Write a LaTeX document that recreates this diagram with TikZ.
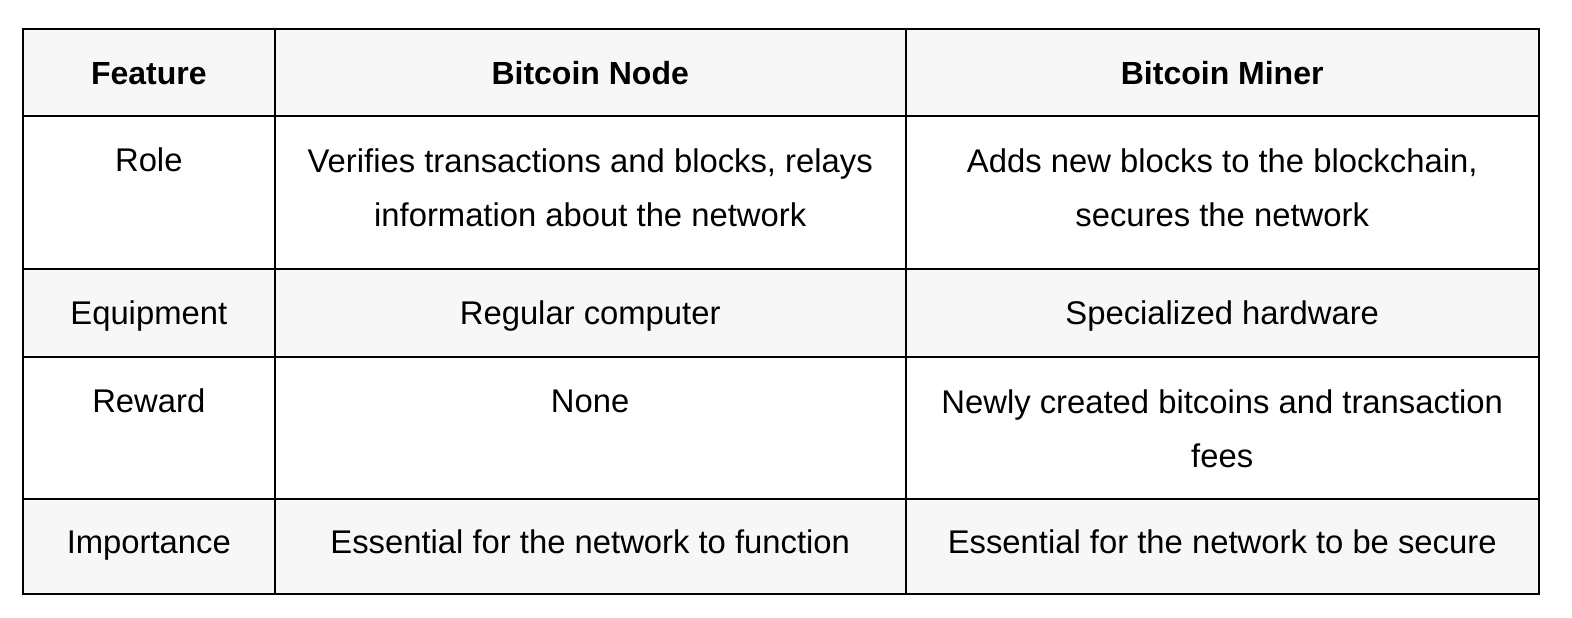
\documentclass[tikz,border=0pt]{standalone}
\usepackage{fontspec}
\setmainfont{Liberation Sans}
\definecolor{rowgray}{HTML}{F7F7F7}
\begin{document}
\begin{tikzpicture}[x=1pt, y=-1pt, every node/.style={align=center, anchor=north, inner sep=0pt, font=\fontsize{32.8}{54}\selectfont, execute at begin node=\strut, execute at end node=\strut}]
	\tikzstyle{head} = [font=\fontsize{32}{54}\selectfont\bfseries]
	\tikzstyle{grid} = [line width=2pt, black]
	\useasboundingbox (0,0) rectangle (1572,618);
	
	% shaded rows
	\fill[rowgray] (22.7,29) rectangle (1539,116.3);
	\fill[rowgray] (22.7,269) rectangle (1539,357);
	\fill[rowgray] (22.7,499) rectangle (1539,594);
	
	% table lines
	\draw[grid] (22.7,29) rectangle (1539,594);
	\draw[grid] (275,29) -- (275,594);
	\draw[grid] (905.5,29) -- (905.5,594);
	\draw[grid] (22.7,116.3) -- (1539,116.3);
	\draw[grid] (22.7,269) -- (1539,269);
	\draw[grid] (22.7,357) -- (1539,357);
	\draw[grid] (22.7,499) -- (1539,499);
	
	\node[head] (feature) at (148.8,46.2) {Feature};
	\node[head] (btcnode) at (590.2,46.2) {Bitcoin Node};
	\node[head] (btcminer) at (1222.2,46.2) {Bitcoin Miner};
	
	\node (role) at (148.8,133.5) {Role};
	\node (rolenode) at (590.2,149) {Verifies transactions and blocks, relays\\information about the network};
	\node (roleminer) at (1222.2,149) {Adds new blocks to the blockchain,\\secures the network};
	
	\node (equip) at (148.8,286.2) {Equipment};
	\node (equipnode) at (590.2,286.2) {Regular computer};
	\node (equipminer) at (1222.2,286.2) {Specialized hardware};
	
	\node (reward) at (148.8,374.2) {Reward};
	\node (rewardnode) at (590.2,374.2) {None};
	\node (rewardminer) at (1222.2,389.7) {Newly created bitcoins and transaction\\fees};
	
	\node (import) at (148.8,515.2) {Importance};
	\node (importnode) at (590.2,515.2) {Essential for the network to function};
	\node (importminer) at (1222.2,515.2) {Essential for the network to be secure};
\end{tikzpicture}
\end{document}
